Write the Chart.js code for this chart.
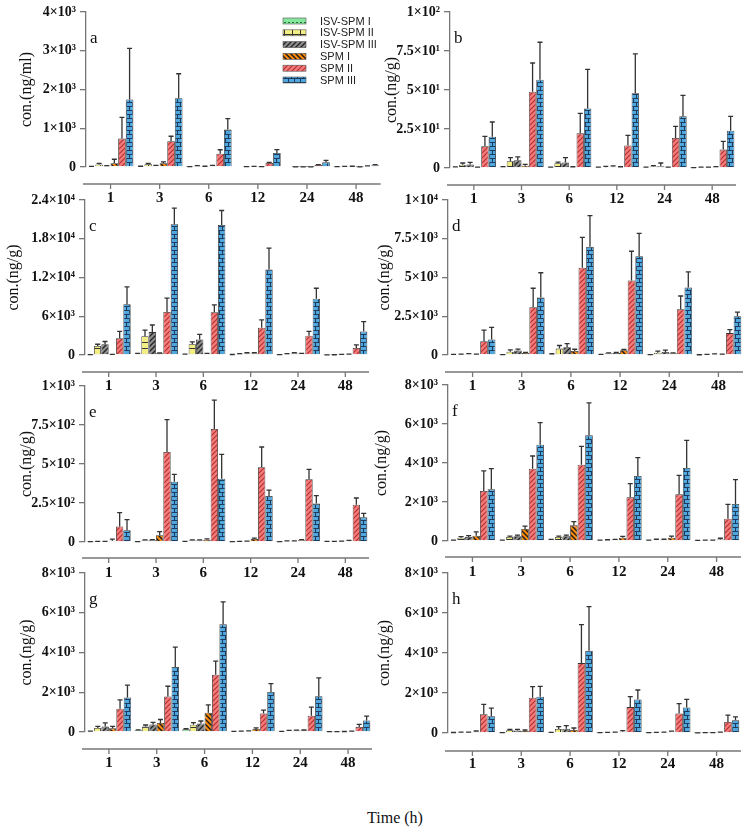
<!DOCTYPE html>
<html><head><meta charset="utf-8">
<script src="https://cdn.jsdelivr.net/npm/chart.js@4.4.1/dist/chart.umd.min.js"></script>
<style>
html,body{margin:0;padding:0;background:#fff;}
#wrap{position:relative;width:754px;height:834px;overflow:hidden;background:#fff;}
#wrap canvas{position:absolute;}
#xt{position:absolute;left:345px;width:100px;top:808px;text-align:center;font:16px 'Liberation Serif',serif;color:#111;line-height:20px;}
</style></head><body>
<div id="wrap">
<canvas id="ca"></canvas><canvas id="cb"></canvas><canvas id="cc"></canvas><canvas id="cd"></canvas>
<canvas id="ce"></canvas><canvas id="cf"></canvas><canvas id="cg"></canvas><canvas id="ch"></canvas>
<div id="xt">Time (h)</div>
</div>
<script>
// ---------- DATA ----------
const categories = ['1','3','6','12','24','48'];
const seriesNames = ['ISV-SPM I','ISV-SPM II','ISV-SPM III','SPM I','SPM II','SPM III'];

// rows: series (ISV-SPM I, II, III, SPM I, II, III); columns: time points
const meanA = [[10,15,5,0,0,5],[65,70,25,5,3,10],[25,30,15,10,3,15],[100,100,30,5,2,3],[733,664,345,103,52,20],[1741,1776,965,362,120,45]];
const errA  = [[5,5,3,0,0,3],[30,20,10,3,2,5],[10,10,5,5,2,5],[100,30,10,3,1,2],[550,130,100,15,10,10],[1320,630,285,86,50,15]];

const meanB = [[0.5,0.6,0.3,0.3,0.3,0.2],[2.1,4.3,3.0,0.5,1.0,0.3],[2.3,4.9,3.6,0.8,1.2,0.3],[0.3,1.5,0.5,0.5,0.4,0.6],[13.9,48.9,22.2,14.5,19.2,11.8],[20.1,56.6,38.2,47.9,33.1,23.9]];
const errB  = [[0.2,0.3,0.2,0.2,0.2,0.1],[1.1,2.3,0.8,0.5,0.5,0.2],[1.3,2.2,3.0,0.5,2.0,0.2],[0.2,0.8,0.3,0.3,0.2,0.3],[6.4,18.4,12.8,6.4,7.5,5.3],[9.4,24,25,25.2,13.5,9.2]];

const meanC = [[50,200,100,60,50,20],[1408,2921,1670,150,150,30],[1670,3547,2400,250,250,80],[80,260,200,250,200,100],[2608,6677,6625,4225,2973,1095],[7877,20240,20136,13250,8712,3652]];
const errC  = [[20,50,30,20,20,10],[260,940,360,50,50,10],[420,1100,780,100,100,30],[30,50,50,100,50,30],[1040,2140,1150,1200,680,470],[2660,2500,2240,3290,1620,1510]];

const meanD = [[30,20,60,30,20,10],[40,217,413,110,152,30],[60,283,500,130,200,50],[40,130,261,304,110,40],[891,3087,5630,4804,2957,1413],[1000,3717,6978,6370,4348,2500]];
const errD  = [[10,10,20,10,10,5],[20,110,200,30,100,10],[30,90,240,40,120,20],[20,40,110,50,30,15],[720,1220,1960,1890,850,220],[780,1590,2020,1480,1020,260]];

const meanE = [[2,2,3,2,2,3],[3,10,10,3,5,3],[3,12,10,4,5,4],[8,43,15,20,12,8],[100,577,724,479,402,239],[75,387,406,295,246,158]];
const errE  = [[1,1,1,1,1,1],[1,3,3,1,2,1],[1,3,3,1,2,1],[10,23,5,5,3,3],[88,207,186,130,64,43],[68,47,156,38,51,26]];

const meanF = [[30,40,60,30,30,20],[171,205,205,50,70,30],[205,240,240,60,70,40],[273,615,803,171,170,80],[2564,3709,3915,2239,2393,1145],[2650,4940,5419,3333,3744,1897]];
const errF  = [[10,10,20,10,10,10],[50,50,40,15,20,10],[70,60,60,20,20,10],[190,150,190,70,80,60],[1030,650,940,700,975,735],[1060,1130,1660,940,1420,1250]];

const meanG = [[30,83,133,20,20,10],[200,283,367,30,60,15],[283,383,433,40,70,20],[183,450,967,150,80,30],[1167,1783,2883,933,817,250],[1733,3267,5417,2017,1800,583]];
const errG  = [[10,20,30,10,10,5],[80,70,100,10,20,5],[180,100,120,15,20,5],[100,180,400,60,20,10],[450,520,680,170,430,130],[630,1000,1130,420,920,220]];

const meanH = [[20,10,20,10,10,5],[30,134,200,20,20,10],[30,120,218,30,30,10],[60,100,151,60,60,30],[941,1765,3496,1294,975,555],[840,1815,4118,1681,1277,639]];
const errH  = [[5,5,10,5,5,2],[10,40,120,10,10,5],[15,60,150,15,15,5],[40,50,100,60,30,15],[490,555,1920,520,490,340],[400,520,2200,470,400,170]];

const tickValsA = [0,1000,2000,3000,4000];
const tickLblA  = ['0','1×10³','2×10³','3×10³','4×10³'];
const tickValsB = [0,25,50,75,100];
const tickLblB  = ['0','2.5×10¹','5×10¹','7.5×10¹','1×10²'];
const tickValsC = [0,6000,12000,18000,24000];
const tickLblC  = ['0','6×10³','1.2×10⁴','1.8×10⁴','2.4×10⁴'];
const tickValsD = [0,2500,5000,7500,10000];
const tickLblD  = ['0','2.5×10³','5×10³','7.5×10³','1×10⁴'];
const tickValsE = [0,250,500,750,1000];
const tickLblE  = ['0','2.5×10²','5×10²','7.5×10²','1×10³'];
const tickValsFGH = [0,2000,4000,6000,8000];
const tickLblFGH  = ['0','2×10³','4×10³','6×10³','8×10³'];

// ---------- PATTERNS ----------
function makePattern(w, h, bg, draw) {
  const c = document.createElement('canvas'); c.width = w; c.height = h;
  const x = c.getContext('2d'); x.fillStyle = bg; x.fillRect(0, 0, w, h);
  draw(x, w, h);
  return x.createPattern(c, 'repeat');
}
function diag(dir, color, lw) {
  return (x, w, h) => {
    x.strokeStyle = color; x.lineWidth = lw; x.beginPath();
    if (dir > 0) { x.moveTo(0, h); x.lineTo(w, 0); x.moveTo(-1, 1); x.lineTo(1, -1); x.moveTo(w-1, h+1); x.lineTo(w+1, h-1); }
    else { x.moveTo(0, 0); x.lineTo(w, h); x.moveTo(-1, h-1); x.lineTo(1, h+1); x.moveTo(w-1, -1); x.lineTo(w+1, 1); }
    x.stroke();
  };
}
const fills = [
  makePattern(4, 6, '#86e89c', (x) => { x.fillStyle = '#2c6a3a'; x.fillRect(0, 0, 2, 1); }),
  makePattern(8, 6, '#f3ee84', (x) => { x.fillStyle = '#333'; x.fillRect(4, 0, 1, 6); x.fillRect(0, 0, 8, 1); }),
  makePattern(5, 5, '#8e8e8e', diag(1, '#222', 1.3)),
  makePattern(5, 5, '#ff8a0a', diag(-1, '#1a1a1a', 1.4)),
  makePattern(5, 5, '#f37b7b', diag(1, '#b83030', 1.2)),
  makePattern(6, 8, '#4ea8df', (x) => { x.fillStyle = '#1d3b5c'; x.fillRect(0, 0, 6, 1); x.fillRect(0, 4, 6, 1); x.fillRect(0, 0, 1, 4); x.fillRect(3, 4, 1, 4); })
];

// ---------- PLUGIN: error bars, offset x-axis line, panel letter, legend ----------
const deco = {
  id: 'deco',
  afterDatasetsDraw(chart, args, opts) {
    const ctx = chart.ctx, xs = chart.scales.x, ys = chart.scales.y, ca = chart.chartArea;
    ctx.save();
    ctx.strokeStyle = '#333'; ctx.lineWidth = 1.3;
    chart.data.datasets.forEach((ds, di) => {
      const meta = chart.getDatasetMeta(di);
      meta.data.forEach((bar, i) => {
        const v = ds.data[i], e = opts.errors[di][i];
        if (!e) return;
        const yB = ys.getPixelForValue(v), yT = ys.getPixelForValue(v + e);
        ctx.beginPath();
        ctx.moveTo(bar.x, yB); ctx.lineTo(bar.x, yT);
        ctx.moveTo(bar.x - 2.5, yT); ctx.lineTo(bar.x + 2.5, yT);
        ctx.stroke();
      });
    });
    const y0 = ys.getPixelForValue(0) + opts.gap;
    ctx.strokeStyle = '#777'; ctx.lineWidth = 1.3;
    ctx.beginPath();
    ctx.moveTo(ca.left - 3, y0); ctx.lineTo(ca.right, y0);
    chart.data.labels.forEach((l, i) => { const px = xs.getPixelForValue(i); ctx.moveTo(px, y0); ctx.lineTo(px, y0 + 5); });
    ctx.stroke();
    ctx.fillStyle = '#111'; ctx.font = '17px "Liberation Serif", serif'; ctx.textBaseline = 'alphabetic';
    ctx.fillText(opts.letter, ca.left + 4, ca.top + 31);
    if (opts.legend) {
      ctx.font = '11px "Liberation Sans", sans-serif'; ctx.textBaseline = 'middle';
      chart.data.datasets.forEach((ds, di) => {
        const cy = opts.legend.y + di * 11.8;
        ctx.fillStyle = ds.backgroundColor;
        ctx.fillRect(opts.legend.x, cy - 3, 23, 6);
        ctx.strokeStyle = '#555'; ctx.lineWidth = 0.6;
        ctx.strokeRect(opts.legend.x, cy - 3, 23, 6);
        ctx.fillStyle = '#222';
        ctx.fillText(ds.label, opts.legend.x + 37, cy + 0.5);
      });
    }
    ctx.restore();
  }
};

// ---------- PANELS ----------
const panels = [
  {id:'ca', letter:'a', mean:meanA, err:errA, tv:tickValsA, tl:tickLblA, title:'con.(ng/ml)', L:86, R:381, T:12, Z:167, gap:17, cl:0, td:59, legend:{x:283, y:21}},
  {id:'cb', letter:'b', mean:meanB, err:errB, tv:tickValsB, tl:tickLblB, title:'con.(ng/g)', L:450, R:736, T:12, Z:168, gap:17, cl:372, td:58},
  {id:'cc', letter:'c', mean:meanC, err:errC, tv:tickValsC, tl:tickLblC, title:'con.(ng/g)', L:85, R:369, T:200, Z:355, gap:17, cl:0, td:71},
  {id:'cd', letter:'d', mean:meanD, err:errD, tv:tickValsD, tl:tickLblD, title:'con.(ng/g)', L:448, R:743, T:200, Z:355, gap:17, cl:372, td:63},
  {id:'ce', letter:'e', mean:meanE, err:errE, tv:tickValsE, tl:tickLblE, title:'con.(ng/g)', L:85, R:369, T:386, Z:542, gap:16, cl:0, td:58},
  {id:'cf', letter:'f', mean:meanF, err:errF, tv:tickValsFGH, tl:tickLblFGH, title:'con.(ng/g)', L:448, R:741, T:385, Z:541, gap:16, cl:372, td:66},
  {id:'cg', letter:'g', mean:meanG, err:errG, tv:tickValsFGH, tl:tickLblFGH, title:'con.(ng/g)', L:85, R:372, T:573, Z:732, gap:17, cl:0, td:58},
  {id:'ch', letter:'h', mean:meanH, err:errH, tv:tickValsFGH, tl:tickLblFGH, title:'con.(ng/g)', L:448, R:741, T:573, Z:733, gap:18, cl:372, td:63}
];

const PAD_TOP = 14, X_H = 50, TITLE_LH = 19.2;
panels.forEach(p => {
  const cv = document.getElementById(p.id);
  const w = p.cl === 0 ? 386 : 382;
  const top = p.T - PAD_TOP;
  const h = (p.Z - p.T) + PAD_TOP + X_H;
  cv.width = w; cv.height = h;
  cv.style.left = p.cl + 'px'; cv.style.top = top + 'px';
  cv.style.width = w + 'px'; cv.style.height = h + 'px';
  const yW = p.L - p.cl;
  const padR = w - (p.R - p.cl);
  const legend = p.legend ? {x: p.legend.x - p.cl, y: p.legend.y - top} : null;
  new Chart(cv, {
    type: 'bar',
    data: {
      labels: categories,
      datasets: seriesNames.map((n, i) => ({
        label: n, data: p.mean[i], backgroundColor: fills[i],
        borderColor: '#333', borderWidth: 0.8,
        categoryPercentage: 0.93, barPercentage: 1.0
      }))
    },
    options: {
      responsive: false, animation: false, devicePixelRatio: 1,
      layout: {padding: {top: PAD_TOP, right: padR, left: 0, bottom: 0}},
      plugins: {
        legend: {display: false}, tooltip: {enabled: false},
        deco: {errors: p.err, gap: p.gap, letter: p.letter, legend: legend}
      },
      scales: {
        x: {
          grid: {display: false, drawTicks: false}, border: {display: false},
          ticks: {color: '#111', padding: 22, font: {family: '"Liberation Serif", serif', size: 15, weight: 'bold'}},
          afterFit: s => { s.height = X_H; }
        },
        y: {
          min: p.tv[0], max: p.tv[p.tv.length - 1],
          afterBuildTicks: s => { s.ticks = p.tv.map(v => ({value: v})); },
          grid: {drawOnChartArea: false, drawTicks: true, tickLength: 6, color: '#777', lineWidth: 1.3},
          border: {display: true, color: '#777', width: 1.3},
          ticks: {color: '#111', padding: 4, font: {family: '"Liberation Serif", serif', size: 14, weight: 'bold'},
                  callback: (v, i) => p.tl[i]},
          title: {display: true, text: p.title, color: '#111',
                  font: {family: '"Liberation Serif", serif', size: 16, lineHeight: 1.2},
                  padding: {top: Math.max(0, yW - p.td - TITLE_LH / 2), bottom: 0}},
          afterFit: s => { s.width = yW; }
        }
      }
    },
    plugins: [deco]
  });
});
</script>
</body></html>
